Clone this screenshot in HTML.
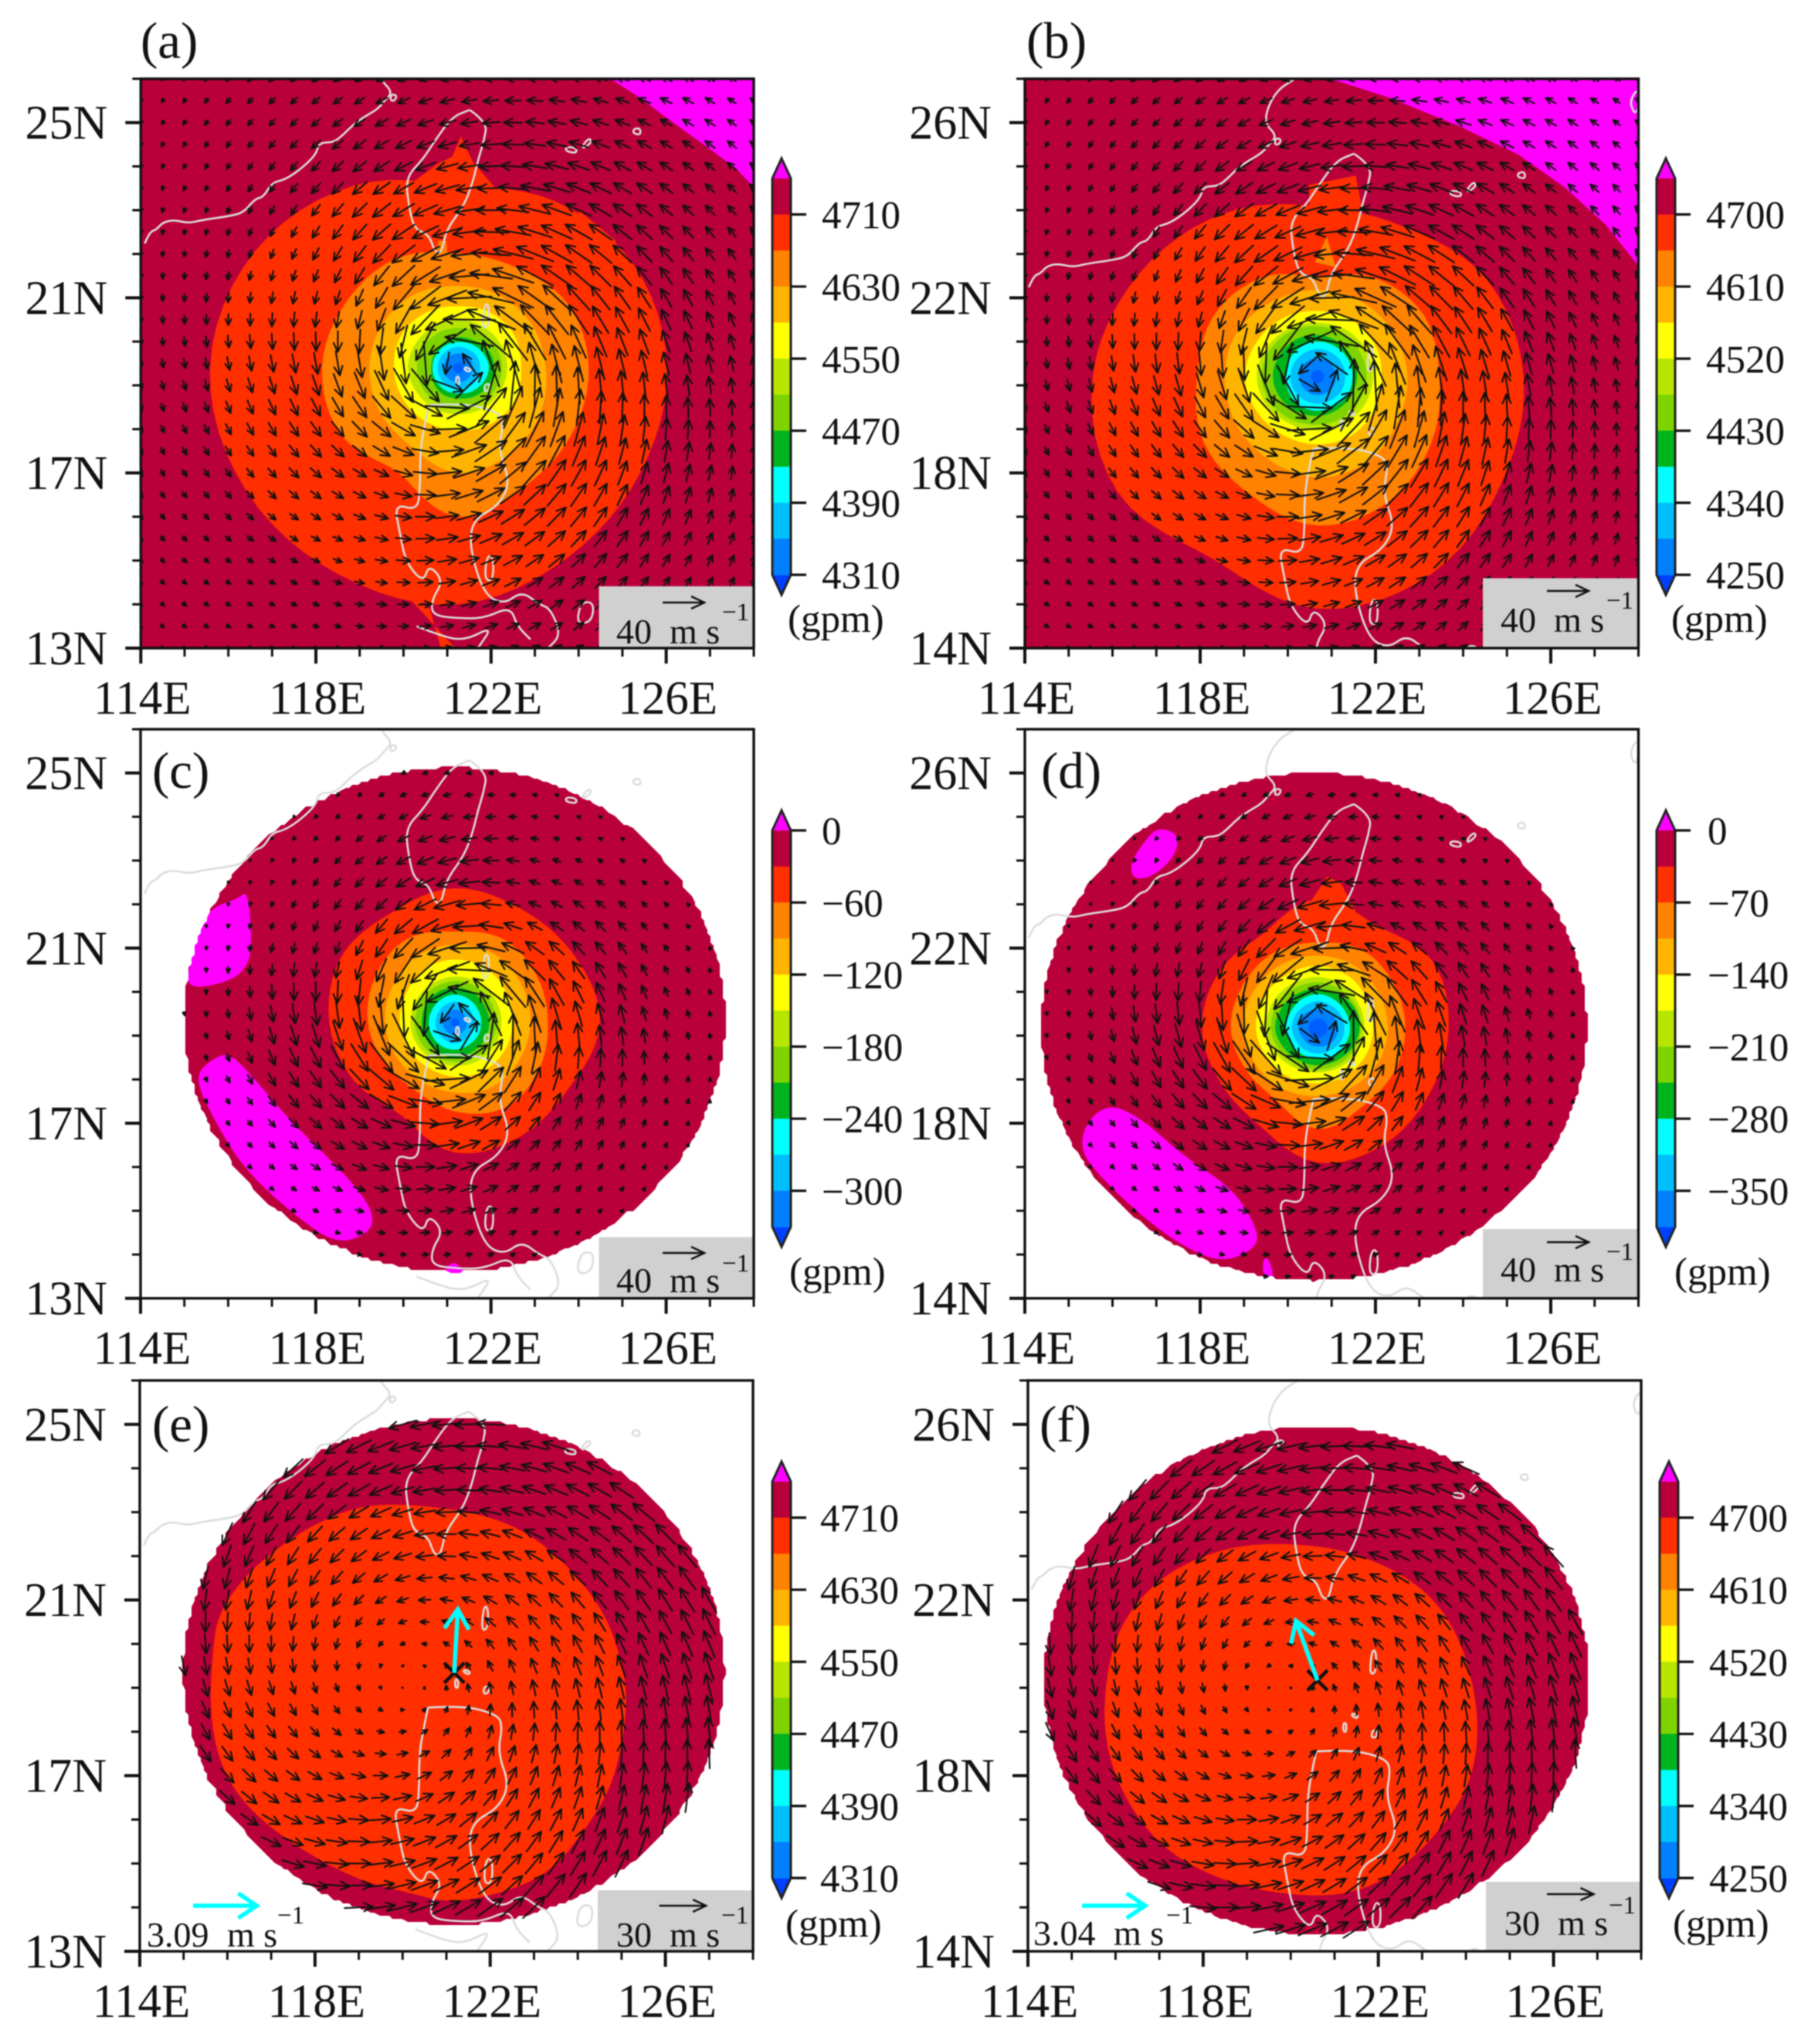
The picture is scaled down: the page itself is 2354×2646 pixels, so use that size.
<!DOCTYPE html>
<html lang="en">
<head>
<meta charset="utf-8">
<title>Typhoon geopotential height and wind panels</title>
<style>
html,body{margin:0;padding:0;background:#fff;}
svg{display:block;font-family:"Liberation Serif",serif;fill:#111;filter:blur(0.7px);}
</style>
</head>
<body>
<svg id="figure" xmlns="http://www.w3.org/2000/svg" width="2354" height="2646" viewBox="0 0 2354 2646">
<defs id="clip-defs"></defs>
<rect x="0" y="0" width="2354" height="2646" fill="#fff"/>
<g id="panel-a"></g>
<g id="panel-b"></g>
<g id="panel-c"></g>
<g id="panel-d"></g>
<g id="panel-e"></g>
<g id="panel-f"></g>
</svg>
<script>
// ---------- colour levels ----------
const levelColors = ['#ff2f00','#ff8200','#ffb400','#ffff00','#b8e600','#7fd400','#00b41e','#00ffff','#00bfff','#0080ff','#0060ff'];
const barColors = ['#b9003a','#ff2f00','#ff8200','#ffb400','#ffff00','#b8e600','#7fd400','#00b41e','#00ffff','#00bfff','#0080ff'];
const baseColor = '#b9003a';
const magenta = '#ff00ff';

// ---------- colour bar labels ----------
const barLabelsA = ['4710','4630','4550','4470','4390','4310'];
const barLabelsB = ['4700','4610','4520','4430','4340','4250'];
const barLabelsC = ['0','\u221260','\u2212120','\u2212180','\u2212240','\u2212300'];
const barLabelsD = ['0','\u221270','\u2212140','\u2212210','\u2212280','\u2212350'];

// ---------- axis tick labels ----------
const lonTickLabels = [114,118,122,126];
const latTicksLow = [13,17,21,25];
const latTicksHigh = [14,18,22,26];

// ---------- coastlines (lon, lat) ----------
const coastTaiwan = [[121.51,25.29],[121.91,25.02],[121.84,24.59],[121.71,24.17],[121.58,23.63],[121.38,23.1],[120.98,22.56],[120.87,22.03],[120.72,22.03],[120.58,22.45],[120.25,22.56],[120.12,23.1],[120.05,23.74],[120.45,24.17],[120.72,24.59],[121.11,25.13],[121.51,25.29]];
const coastChina = [[114.09,22.24],[114.2,22.5],[114.36,22.56],[114.5,22.72],[114.75,22.78],[115.1,22.7],[115.42,22.78],[116.0,22.86],[116.34,22.94],[116.61,23.26],[116.8,23.3],[117.0,23.63],[117.3,23.7],[117.67,23.95],[118.0,24.27],[118.07,24.54],[118.4,24.55],[118.6,24.7],[118.85,24.95],[119.1,25.13],[119.4,25.3],[119.56,25.49],[119.76,25.7],[119.43,26.02],[119.7,26.7],[120.16,27.0]];
const coastLuzonEast = [[120.58,18.55],[121.38,18.6],[122.17,18.39],[122.28,18.12],[122.17,17.53],[122.44,16.79],[122.17,16.25],[121.58,15.93],[121.51,15.29],[121.84,14.22],[122.3,14.0],[122.7,14.3],[123.1,14.0],[123.36,13.9],[123.6,13.3],[123.3,13.0]];
const coastLuzonWest = [[120.58,18.55],[120.52,18.28],[120.38,17.53],[120.38,16.68],[120.32,16.14],[119.79,16.3],[119.92,15.61],[120.05,14.97],[120.45,14.49],[120.58,14.91],[120.91,14.54],[120.65,14.11],[120.65,13.75],[121.25,13.68],[121.84,13.68],[122.44,13.95],[122.6,13.5],[122.9,13.2]];
const coastMindoro = [[120.3,13.5],[120.8,13.3],[121.38,13.16],[122.04,13.5],[121.7,13.0]];
const islandLoops = [
 [[119.7,25.5],[119.8,25.5],[119.85,25.62],[119.72,25.65],[119.7,25.5]],
 [[123.7,24.35],[123.95,24.3],[123.95,24.42],[123.72,24.45],[123.7,24.35]],
 [[124.1,24.4],[124.3,24.55],[124.25,24.65],[124.1,24.5],[124.1,24.4]],
 [[125.25,24.75],[125.42,24.72],[125.4,24.88],[125.25,24.85],[125.25,24.75]],
 [[121.38,19.37],[121.5,19.3],[121.55,19.36],[121.42,19.42],[121.38,19.37]],
 [[121.2,19.0],[121.27,19.0],[121.27,19.2],[121.2,19.2],[121.2,19.0]],
 [[121.8,20.3],[121.95,20.35],[121.95,20.85],[121.85,20.85],[121.8,20.3]],
 [[121.85,18.85],[121.98,18.9],[121.95,19.05],[121.85,19.0],[121.85,18.85]],
 [[121.85,14.55],[122.05,14.55],[122.05,15.1],[121.9,15.1],[121.85,14.55]],
 [[123.95,13.55],[124.3,13.6],[124.35,14.05],[124.05,14.05],[123.95,13.55]],
 [[127.9,26.2],[128,26.3],[128,26.8],[127.8,26.5],[127.9,26.2]]
];

// ---------- contour radii (degrees) every 30 degrees starting east, counter-clockwise ----------
const contoursA = [
 [4.77,4.65,4.4,4.17,4.8,5.35,5.67,5.6,5.45,5.4,5.0,4.8],
 [2.98,2.9,2.65,2.62,2.87,2.97,3.11,3.08,2.75,3.4,3.1,3.0],
 [2.0,1.95,1.9,1.87,1.95,2.0,2.03,2.05,2.1,2.4,2.3,2.15],
 [1.44,1.48,1.46,1.41,1.46,1.5,1.47,1.45,1.43,1.44,1.48,1.5],
 [1.12,1.11,1.1,1.09,1.1,1.12,1.15,1.1,1.08,1.06,1.08,1.1],
 [1.0,.98,.95,.91,.92,.93,.94,.94,.94,.94,.96,.98],
 [.82,.8,.72,.7,.66,.63,.62,.66,.7,.7,.75,.8],
 [.7,.66,.62,.59,.59,.59,.59,.59,.59,.59,.62,.66],
 [.5,.5,.48,.48,.47,.47,.47,.47,.47,.48,.5,.5],
 [.33,.33,.33,.33,.33,.33,.33,.33,.33,.33,.33,.33],
 [.12,.12,.12,.12,.12,.12,.12,.12,.12,.12,.12,.12]
];
const contoursB = [
 [4.7,4.45,3.95,3.9,4.3,4.7,5.13,5.27,4.8,5.3,5.2,4.85],
 [2.78,2.8,2.6,2.3,2.6,2.75,2.75,3.0,3.1,3.4,3.28,3.0],
 [2.05,2.0,1.98,1.98,2.0,2.1,2.12,2.15,2.2,2.3,2.25,2.1],
 [1.46,1.5,1.5,1.5,1.55,1.6,1.66,1.6,1.55,1.55,1.55,1.5],
 [1.26,1.26,1.25,1.23,1.28,1.33,1.39,1.33,1.25,1.23,1.24,1.25],
 [1.12,1.12,1.13,1.15,1.2,1.24,1.28,1.22,1.15,1.1,1.1,1.1],
 [.9,.9,.92,.95,.98,1.0,1.02,.98,.92,.9,.88,.88],
 [.8,.8,.8,.8,.78,.75,.73,.75,.78,.78,.78,.8],
 [.63,.63,.63,.63,.62,.62,.62,.62,.62,.62,.62,.63],
 [.42,.42,.42,.42,.42,.42,.42,.42,.42,.42,.42,.42],
 [.15,.15,.15,.15,.15,.15,.15,.15,.15,.15,.15,.15]
];
const contoursC = [
 [3.31,3.12,3.0,3.07,2.9,3.0,2.87,2.66,2.45,2.97,3.0,3.0],
 [2.12,2.15,2.2,2.08,2.2,2.1,1.99,1.85,1.8,2.03,2.25,2.2],
 [1.72,1.75,1.8,1.78,1.75,1.65,1.6,1.55,1.55,1.6,1.7,1.7],
 [1.32,1.36,1.42,1.44,1.4,1.3,1.26,1.22,1.2,1.24,1.28,1.3],
 [1.06,1.06,1.06,1.05,1.03,1.02,1.02,1.0,.99,.99,1.02,1.05],
 [.94,.94,.95,.95,.93,.92,.92,.9,.9,.9,.92,.94],
 [.78,.78,.8,.8,.8,.78,.76,.76,.78,.8,.78,.78],
 [.6,.6,.62,.64,.62,.6,.6,.6,.62,.62,.6,.6],
 [.44,.44,.46,.48,.46,.45,.45,.45,.46,.48,.45,.44],
 [.28,.28,.28,.3,.28,.28,.28,.28,.28,.3,.28,.28],
 [.1,.1,.1,.1,.1,.1,.1,.1,.1,.1,.1,.1]
];
const contoursD = [
 [2.98,3.03,2.7,2.95,2.5,2.6,2.65,2.55,2.6,3.07,3.05,2.95],
 [1.99,2.0,2.05,1.96,2.0,1.98,1.99,1.9,1.9,2.3,2.05,2.0],
 [1.59,1.6,1.65,1.66,1.68,1.7,1.72,1.65,1.6,1.55,1.55,1.58],
 [1.26,1.3,1.38,1.42,1.42,1.42,1.42,1.35,1.3,1.26,1.25,1.25],
 [1.06,1.08,1.14,1.17,1.18,1.19,1.19,1.12,1.05,1.01,1.02,1.04],
 [.98,1.0,1.02,1.05,1.06,1.08,1.08,1.02,.96,.94,.95,.96],
 [.95,.95,.9,.9,.92,.95,.98,.9,.85,.85,.85,.9],
 [.73,.73,.75,.78,.76,.73,.73,.7,.7,.7,.72,.72],
 [.6,.6,.6,.62,.6,.6,.6,.58,.58,.58,.58,.6],
 [.45,.45,.45,.43,.44,.45,.45,.42,.42,.42,.44,.45],
 [.22,.22,.22,.22,.22,.22,.22,.22,.22,.22,.22,.22]
];

// ---------- extra filled shapes (lon, lat) ----------
const magentaA = [[[124.42,26.2],[125.35,25.6],[126.28,24.91],[126.87,24.49],[127.6,23.95],[128.1,23.42],[128.1,26.2]]];
const magentaB = [[[120.36,27.2],[122.34,26.56],[123.93,25.91],[125.26,25.27],[126.32,24.52],[127.25,23.67],[128.1,22.6],[128.1,27.2]]];
const magentaC = [
 [[116.45,22.32],[116.54,21.23],[116.48,20.64],[116.08,20.24],[115.02,20.04],[115.15,20.74],[115.35,21.43],[115.62,21.93],[116.21,22.12]],
 [[116.01,18.61],[116.48,18.16],[117.4,17.07],[118.73,15.78],[119.32,14.99],[119.26,14.5],[118.46,14.22],[117.4,14.99],[116.34,15.98],[115.68,17.07],[115.22,18.06],[115.62,18.46]],
 [[120.85,13.5],[121.11,13.87],[121.38,13.65],[121.38,13.5]]
];
const magentaD = [
 [[117.05,24.76],[117.51,24.61],[117.44,24.11],[116.91,23.62],[116.45,23.57],[116.41,23.97],[116.78,24.51]],
 [[115.92,18.45],[116.65,18.12],[117.58,17.28],[118.77,16.49],[119.3,15.6],[119.3,15.15],[118.5,14.8],[117.58,15.2],[116.65,15.89],[115.72,16.78],[115.26,17.38],[115.39,18.02]],
 [[119.43,14.9],[119.56,14.93],[119.7,14.46],[119.43,14.5]]
];
const redTonguesA = [
 [[121.31,24.68],[121.11,24.22],[120.78,24.06],[120.05,23.52],[122.17,23.42],[121.58,24.11]],
 [[120.05,14.22],[120.65,13.58],[121.18,13.0],[120.85,13.0],[120.6,13.9]],
 [[124.0,23.0],[124.85,22.3],[124.85,21.9],[124.0,21.9]]
];
const redTonguesB = [
 [[121.55,24.79],[121.7,24.0],[120.5,23.6],[120.49,24.58]]
];
const redTonguesD = [
 [[120.91,23.64],[120.36,22.83],[121.55,22.83],[121.22,23.47]]
];
const orangeTonguesA = [[[120.72,22.0],[120.8,22.3],[120.98,22.3],[121.0,21.9]]];
const orangeTonguesB = [[[120.89,23.4],[120.62,22.81],[121.09,22.7]]];
const redZoneE = [[120.09,23.2],[122.08,22.93],[123.4,22.19],[124.6,20.81],[125.06,19.43],[125.13,18.44],[124.86,16.96],[124.33,15.98],[123.4,14.79],[122.21,14.3],[121.02,14.1],[120.09,14.35],[119.03,14.6],[117.71,15.29],[116.52,16.18],[115.85,17.16],[115.59,18.44],[115.66,19.82],[115.79,20.71],[116.52,21.7],[117.71,22.59],[118.9,23.13]];
const redZoneF = [[119.76,23.31],[121.35,23.14],[122.94,22.4],[123.87,21.22],[124.33,19.35],[124.13,17.77],[123.2,16.49],[122.15,15.6],[121.09,15.25],[119.76,15.3],[118.44,15.6],[117.11,16.29],[116.19,17.47],[115.72,18.85],[115.79,20.43],[116.19,21.61],[117.11,22.6],[118.44,23.19]];

// ---------- wind: radial speed profile (m/s) and azimuthal factors read from the arrows ----------
const windRadius = [0,.3,.6,1,1.5,2,2.5,3,3.5,4,5,6,7,8,9,10,11];
const windSpeedA = [4,24,42,46,38,33,29,26,23,21,16,12,9,8,6,5,4];
const windSpeedB = [4,26,44,48,40,34,29,26,23,21,16,12,9,8,6,5,4];
const windSpeedC = [4,24,42,46,38,31,25,19,16,14,7,3,1.5,1,1,1,1];
const windSpeedD = [4,26,44,48,40,31,25,19,16,14,7,3,1.5,1,1,1,1];
const windSpeedE = [0,1,2,3.5,5.5,7.5,9,10.5,11.5,12.5,14.5,16.5,18.5,20,21,22,23];
const windSpeedF = [0,1,2,3.5,5.5,7.5,9,10.5,11.5,12.5,14.5,16.5,18.5,20,21,22,23];
const windAzimuthTotal = [1.3,1.3,1.5,1.2,1.0,.55,.85,.7,.6,1.0,1.2,1.3];
const windAzimuthAnomaly = [1.2,1.0,.7,1.2,.85,.7,1.3,1.1,1.0,1.1,.8,.9];
const windAzimuthLarge = [1.0,1.0,1.05,1.15,1.1,1.0,.85,.9,1.05,1.3,1.2,1.05];
const motionE = [0.17,3.05];
const motionF = [-1.03,2.85];

const panels = [
 {id:'a',left:182.3,right:976,top:102,bottom:839,lat0:13,latTicks:latTicksLow,label:'(a)',lx:182,ly:75,
  cx:121.25,cy:19.4,contours:contoursA,magenta:magentaA,red:redTonguesA,orange:orangeTonguesA,
  wind:windSpeedA,az:windAzimuthTotal,wc:[121.25,19.4],inflow:12,pxPerMs:54/40,ref:40,
  box:[775.5,759],num:[798,833],arrowY:780,arrowX:858,sup:[935,803],barX:1000,barLabels:barLabelsA,tickShift:1,barTop:231,txtX:1064,gpm:[1020,818]},
 {id:'b',left:1327,right:2121.5,top:102,bottom:839,lat0:14,latTicks:latTicksHigh,label:'(b)',lx:1329,ly:75,
  cx:120.68,cy:20.2,contours:contoursB,magenta:magentaB,red:redTonguesB,orange:orangeTonguesB,
  wind:windSpeedB,az:windAzimuthTotal,wc:[120.68,20.2],inflow:12,pxPerMs:54/40,ref:40,
  box:[1920,748.5],num:[1943,818],arrowY:765,arrowX:2003,sup:[2080,788],barX:2145,barLabels:barLabelsB,tickShift:1,barTop:231,txtX:2209,gpm:[2164,818]},
 {id:'c',left:182,right:976,top:944,bottom:1680.7,lat0:13,latTicks:latTicksLow,label:'(c)',lx:197,ly:1020,
  cx:121.18,cy:19.3,contours:contoursC,magenta:magentaC,red:[],orange:[],mask:[121.17,19.37,6.18,5.76],
  wind:windSpeedC,az:windAzimuthAnomaly,wc:[121.18,19.3],inflow:12,pxPerMs:54/40,ref:40,
  box:[775.5,1601.5],num:[798,1673],arrowY:1622,arrowX:858,sup:[935,1646],barX:1000,barLabels:barLabelsC,tickShift:0,barTop:1075,txtX:1064,gpm:[1022,1663]},
 {id:'d',left:1327,right:2121.5,top:944,bottom:1680.7,lat0:14,latTicks:latTicksHigh,label:'(d)',lx:1348,ly:1020,
  cx:120.69,cy:20.17,contours:contoursD,magenta:magentaD,red:redTonguesD,orange:[],mask:[120.6,20.2,6.22,5.8],
  wind:windSpeedD,az:windAzimuthAnomaly,wc:[120.69,20.17],inflow:12,pxPerMs:54/40,ref:40,
  box:[1920,1591],num:[1943,1659],arrowY:1608,arrowX:2003,sup:[2080,1631],barX:2145,barLabels:barLabelsD,tickShift:0,barTop:1075,txtX:2211,gpm:[2168,1663]},
 {id:'e',left:181,right:975,top:1787,bottom:2526,lat0:13,latTicks:latTicksLow,label:'(e)',lx:197,ly:1866,
  zone:redZoneE,contours:[],magenta:[],red:[],orange:[],mask:[121.17,19.37,6.18,5.76],
  wind:windSpeedE,az:windAzimuthLarge,wc:[120.1,19.13],inflow:15,pxPerMs:60.5/30,ref:30,
  box:[774,2447],num:[798,2520],arrowY:2467,arrowX:853.6,sup:[934,2490],barX:1000,barLabels:barLabelsA,tickShift:1,barTop:1918,txtX:1062,gpm:[1017,2507],
  motion:motionE,storm:[121.18,19.34],mLeg:{x:250,y:2467,tx:190,mx:262,base:2520,sx:359,sb:2490,txt:'3.09'}},
 {id:'f',left:1331,right:2125,top:1787,bottom:2526,lat0:14,latTicks:latTicksHigh,label:'(f)',lx:1346,ly:1866,
  zone:redZoneF,contours:[],magenta:[],red:[],orange:[],mask:[120.59,20.17,6.22,5.78],
  wind:windSpeedF,az:windAzimuthLarge,wc:[119.76,19.84],inflow:15,pxPerMs:60.5/30,ref:30,
  box:[1924,2436],num:[1948,2505],arrowY:2452,arrowX:2003,sup:[2083,2477],barX:2149,barLabels:barLabelsB,tickShift:1,barTop:1918,txtX:2213,gpm:[2166,2507],
  motion:motionF,storm:[120.61,20.17],mLeg:{x:1401,y:2467,tx:1338,mx:1410,base:2518,sx:1510,sb:2490,txt:'3.04'}}
];

const NS = 'http://www.w3.org/2000/svg';
function mk(tag, attrs, parent, text){
  const el = document.createElementNS(NS, tag);
  for (const k in attrs) el.setAttribute(k, attrs[k]);
  if (text !== undefined) el.textContent = text;
  parent.appendChild(el);
  return el;
}
function interp(xs, ys, x){
  if (x <= xs[0]) return ys[0];
  for (let i = 1; i < xs.length; i++){
    if (x <= xs[i]) return ys[i-1] + (ys[i]-ys[i-1]) * (x-xs[i-1]) / (xs[i]-xs[i-1]);
  }
  return ys[ys.length-1];
}
function periodic(vals, deg){
  const n = vals.length, t = ((deg % 360) + 360) % 360 / (360/n);
  const i = Math.floor(t), f = t - i;
  const p0 = vals[(i-1+n)%n], p1 = vals[i%n], p2 = vals[(i+1)%n], p3 = vals[(i+2)%n];
  return 0.5*((2*p1)+(-p0+p2)*f+(2*p0-5*p1+4*p2-p3)*f*f+(-p0+3*p1-3*p2+p3)*f*f*f);
}

const defs = document.getElementById('clip-defs');

panels.forEach(function(p){
  const g = document.getElementById('panel-' + p.id);
  const xS = function(lon){ return p.left + (lon-114) * (p.right-p.left) / 14; };
  const yS = function(lat){ return p.bottom - (lat-p.lat0) * (p.bottom-p.top) / 13; };
  const polyPath = function(pts, close){
    return pts.map(function(q,i){ return (i?'L':'M') + xS(q[0]).toFixed(1) + ' ' + yS(q[1]).toFixed(1); }).join('') + (close?'Z':'');
  };
  const smoothClosed = function(pts){
    const n = pts.length;
    const mid = function(a,b){ return [(xS(a[0])+xS(b[0]))/2, (yS(a[1])+yS(b[1]))/2]; };
    const m0 = mid(pts[n-1], pts[0]);
    let d = 'M' + m0[0].toFixed(1) + ' ' + m0[1].toFixed(1);
    for (let i = 0; i < n; i++){
      const m = mid(pts[i], pts[(i+1)%n]);
      d += 'Q' + xS(pts[i][0]).toFixed(1) + ' ' + yS(pts[i][1]).toFixed(1) + ' ' + m[0].toFixed(1) + ' ' + m[1].toFixed(1);
    }
    return d + 'Z';
  };
  const smoothOpen = function(pts){
    let d = 'M' + xS(pts[0][0]).toFixed(1) + ' ' + yS(pts[0][1]).toFixed(1);
    for (let i = 1; i < pts.length-1; i++){
      const mx = (xS(pts[i][0])+xS(pts[i+1][0]))/2, my = (yS(pts[i][1])+yS(pts[i+1][1]))/2;
      d += 'Q' + xS(pts[i][0]).toFixed(1) + ' ' + yS(pts[i][1]).toFixed(1) + ' ' + mx.toFixed(1) + ' ' + my.toFixed(1);
    }
    const last = pts[pts.length-1];
    return d + 'L' + xS(last[0]).toFixed(1) + ' ' + yS(last[1]).toFixed(1);
  };
  const clip = mk('clipPath', {id:'plot-clip-'+p.id}, defs);
  mk('rect', {x:p.left,y:p.top,width:p.right-p.left,height:p.bottom-p.top}, clip);

  let maskD = null;
  if (p.mask){
    const s = [];
    for (let a = 0; a < 360; a += 1){
      const r = a*Math.PI/180;
      const px = xS(p.mask[0] + p.mask[2]*Math.cos(r));
      const py = yS(p.mask[1] + p.mask[3]*Math.sin(r));
      s.push('L' + (Math.round(px/4)*4) + ' ' + (Math.round(py/4)*4));
    }
    maskD = 'M' + s.join('').slice(1) + 'Z';
    const mc = mk('clipPath', {id:'mask-clip-'+p.id}, defs);
    mk('path', {d:maskD}, mc);
  }

  const plot = mk('g', {'clip-path':'url(#plot-clip-'+p.id+')'}, g);
  
  

  const field = mk('g', p.mask ? {'clip-path':'url(#mask-clip-'+p.id+')'} : {}, plot);
  
  

  if (p.mask){
    const bg = mk('path', {d:maskD, fill:baseColor}, field);
    
    
  } else {
    const bg = mk('rect', {x:p.left,y:p.top,width:p.right-p.left,height:p.bottom-p.top,fill:baseColor}, field);
    
    
  }
  p.magenta.forEach(function(poly){
    const m = mk('path', {d:p.mask ? smoothClosed(poly) : polyPath(poly,true), fill:magenta}, field);
    
    
  });
  p.red.forEach(function(poly){
    const m = mk('path', {d:polyPath(poly,true), fill:levelColors[0]}, field);
    
    
  });
  if (p.zone){
    const z = mk('path', {d:smoothClosed(p.zone), fill:levelColors[0]}, field);
    
    
  }
  p.contours.forEach(function(radii, idx){
    const pts = [];
    for (let a = 0; a < 360; a += 5){
      const r = periodic(radii, a);
      pts.push([p.cx + r*Math.cos(a*Math.PI/180), p.cy + r*Math.sin(a*Math.PI/180)]);
    }
    const c = mk('path', {d:polyPath(pts,true), fill:levelColors[idx]}, field);
    
    
    if (idx === 0){
      p.orange.forEach(function(poly){
        const m = mk('path', {d:polyPath(poly,true), fill:levelColors[1]}, field);
        
        
      });
    }
  });

  // coastlines
  const coastG = mk('g', {fill:'none', stroke:'#dcdcdc', 'stroke-width':2.6, 'stroke-linejoin':'round'}, plot);
  
  
  [coastTaiwan,coastChina,coastLuzonEast,coastLuzonWest,coastMindoro].forEach(function(line){
    const l = mk('path', {d:smoothOpen(line)}, coastG);
    
    
  });
  islandLoops.forEach(function(line){
    const l = mk('path', {d:smoothClosed(line.slice(0,-1))}, coastG);
    
    
  });

  // wind vectors
  const windG = mk('g', {fill:'none', stroke:'#111', 'stroke-width':2.1, 'stroke-linecap':'round', 'stroke-linejoin':'round'}, plot);
  
  
  for (let lat = p.lat0; lat <= p.lat0 + 13.01; lat += 0.5){
    for (let lon = 114; lon <= 128.01; lon += 0.5){
      if (p.mask){
        const ex = (lon-p.mask[0])/p.mask[2], ey = (lat-p.mask[1])/p.mask[3];
        if (ex*ex + ey*ey > 1) continue;
      }
      const dx = lon - p.wc[0], dy = lat - p.wc[1];
      const r = Math.sqrt(dx*dx + dy*dy);
      const th = Math.atan2(dy, dx);
      const az = periodic(p.az, th*180/Math.PI);
      const speed = interp(windRadius, p.wind, r) * (1 + (az-1)*Math.min(1, r/3));
      const a = p.inflow*Math.PI/180;
      const ux = Math.cos(a)*(-Math.sin(th)) - Math.sin(a)*Math.cos(th);
      const uy = Math.cos(a)*Math.cos(th) - Math.sin(a)*Math.sin(th);
      const len = speed * p.pxPerMs;
      if (len < 1) continue;
      const cxp = xS(lon), cyp = yS(lat);
      const vx = ux, vy = -uy;
      const x0 = cxp - vx*len/2, y0 = cyp - vy*len/2, x1 = cxp + vx*len/2, y1 = cyp + vy*len/2;
      const h = Math.min(13, Math.min(len, 3 + len*0.4));
      const ang = Math.atan2(vy, vx), w = 25*Math.PI/180;
      const bx1 = x1 - h*Math.cos(ang-w), by1 = y1 - h*Math.sin(ang-w);
      const bx2 = x1 - h*Math.cos(ang+w), by2 = y1 - h*Math.sin(ang+w);
      const v = mk('path', {d:'M'+x0.toFixed(1)+' '+y0.toFixed(1)+'L'+x1.toFixed(1)+' '+y1.toFixed(1)+'M'+bx1.toFixed(1)+' '+by1.toFixed(1)+'L'+x1.toFixed(1)+' '+y1.toFixed(1)+'L'+bx2.toFixed(1)+' '+by2.toFixed(1)}, windG);
      
      
    }
  }

  // storm motion
  if (p.motion){
    const sx = xS(p.storm[0]), sy = yS(p.storm[1]);
    const xm = mk('path', {d:'M'+(sx-13)+' '+(sy-13)+'L'+(sx+13)+' '+(sy+13)+'M'+(sx+13)+' '+(sy-13)+'L'+(sx-13)+' '+(sy+13), stroke:'#111','stroke-width':4.5, fill:'none'}, plot);
    
    
    const mpx = 27;
    const ex = sx + p.motion[0]*mpx, ey = sy - p.motion[1]*mpx;
    const ang = Math.atan2(ey-sy, ex-sx), w = 32*Math.PI/180, h = 30;
    const ma = mk('path', {d:'M'+sx+' '+sy+'L'+ex+' '+ey+'M'+(ex-h*Math.cos(ang-w))+' '+(ey-h*Math.sin(ang-w))+'L'+ex+' '+ey+'L'+(ex-h*Math.cos(ang+w))+' '+(ey-h*Math.sin(ang+w)), stroke:'#00ffff','stroke-width':5.5, fill:'none','stroke-linejoin':'miter'}, plot);
    
    
    const speedVal = Math.sqrt(p.motion[0]*p.motion[0] + p.motion[1]*p.motion[1]);
    const lx0 = p.mLeg.x, ly0 = p.mLeg.y, lx1 = lx0 + speedVal*mpx;
    const la = mk('path', {d:'M'+lx0+' '+ly0+'L'+lx1+' '+ly0+'M'+(lx1-24)+' '+(ly0-16)+'L'+lx1+' '+ly0+'L'+(lx1-24)+' '+(ly0+16), stroke:'#00ffff','stroke-width':5.5, fill:'none'}, g);
    
    
    const t1 = mk('text', {x:p.mLeg.tx, y:p.mLeg.base, 'font-size':46}, g, p.mLeg.txt);
    
    
    const t2 = mk('text', {x:p.mLeg.tx + 104, y:p.mLeg.base, 'font-size':46}, g, 'm s');
    
    
    const t3 = mk('text', {x:p.mLeg.sx, y:p.mLeg.sb, 'font-size':33}, g, '\u22121');
    
    
  }

  // reference vector box
  const box = mk('rect', {x:p.box[0], y:p.box[1], width:p.right-p.box[0], height:p.bottom-p.box[1], fill:'#d0d0d0'}, g);
  
  
  const refLen = p.ref*p.pxPerMs;
  const refX1 = p.arrowX + refLen;
  const ra = mk('path', {d:'M'+p.arrowX+' '+p.arrowY+'L'+refX1+' '+p.arrowY+'M'+(refX1-17)+' '+(p.arrowY-8)+'L'+refX1+' '+p.arrowY+'L'+(refX1-17)+' '+(p.arrowY+8), stroke:'#111','stroke-width':2.5, fill:'none'}, g);
  
  
  const rv = mk('text', {x:p.num[0], y:p.num[1], 'font-size':46}, g, String(p.ref));
  
  
  const ru = mk('text', {x:p.num[0]+69, y:p.num[1], 'font-size':46}, g, 'm s');
  
  
  const rs = mk('text', {x:p.sup[0], y:p.sup[1], 'font-size':33}, g, '\u22121');
  
  

  // frame & ticks
  const frame = mk('rect', {x:p.left, y:p.top, width:p.right-p.left, height:p.bottom-p.top, fill:'none', stroke:'#111', 'stroke-width':3.4}, g);
  
  
  for (let lat = p.lat0; lat <= p.lat0 + 13; lat++){
    const major = p.latTicks.indexOf(lat) >= 0;
    const tk = mk('line', {x1:p.left, x2:p.left-(major?20:11), y1:yS(lat), y2:yS(lat), stroke:'#111', 'stroke-width':major?4:3}, g);
    
    
  }
  for (let lon = 114; lon <= 128; lon++){
    const major = lonTickLabels.indexOf(lon) >= 0;
    const tk = mk('line', {y1:p.bottom, y2:p.bottom+(major?20:11), x1:xS(lon), x2:xS(lon), stroke:'#111', 'stroke-width':major?4:3}, g);
    
    
  }
  p.latTicks.forEach(function(lat){
    const t = mk('text', {x:p.left-43, y:yS(lat)+21, 'font-size':62, 'text-anchor':'end'}, g, lat + 'N');
    
    
  });
  lonTickLabels.forEach(function(lon){
    const t = mk('text', {x:xS(lon)+2, y:p.bottom+85, 'font-size':61, 'text-anchor':'middle'}, g, lon + 'E');
    
    
  });
  const pl = mk('text', {x:p.lx, y:p.ly, 'font-size':67}, g, p.label);
  
  

  // colour bar
  const cb = mk('g', {}, g);
  
  
  const step = 46.65, bw = 24, bx = p.barX, top = p.barTop, bot = top + step*barColors.length;
  const tipT = mk('path', {d:'M'+bx+' '+top+'L'+(bx+bw/2)+' '+(top-26)+'L'+(bx+bw)+' '+top+'Z', fill:magenta}, cb);
  
  
  const tipB = mk('path', {d:'M'+bx+' '+bot+'L'+(bx+bw/2)+' '+(bot+26)+'L'+(bx+bw)+' '+bot+'Z', fill:'#0040ff'}, cb);
  
  
  barColors.forEach(function(col, i){
    const s = mk('rect', {x:bx, y:top+i*step, width:bw, height:step+0.5, fill:col}, cb);
    
    
  });
  const outline = mk('path', {d:'M'+bx+' '+top+'L'+(bx+bw/2)+' '+(top-26)+'L'+(bx+bw)+' '+top+'L'+(bx+bw)+' '+bot+'L'+(bx+bw/2)+' '+(bot+26)+'L'+bx+' '+bot+'Z', fill:'none', stroke:'#222', 'stroke-width':3}, cb);
  
  
  p.barLabels.forEach(function(lbl, i){
    const y = top + (p.tickShift + i*2)*step;
    const tk = mk('line', {x1:bx+bw, x2:bx+bw+20, y1:y, y2:y, stroke:'#111', 'stroke-width':3.2}, cb);
    
    
    const tx = mk('text', {x:p.txtX, y:y+18, 'font-size':51}, cb, lbl);
    
    
  });
  const unit = mk('text', {x:p.gpm[0], y:p.gpm[1], 'font-size':51}, cb, '(gpm)');
  
  
});
</script>
</body>
</html>
